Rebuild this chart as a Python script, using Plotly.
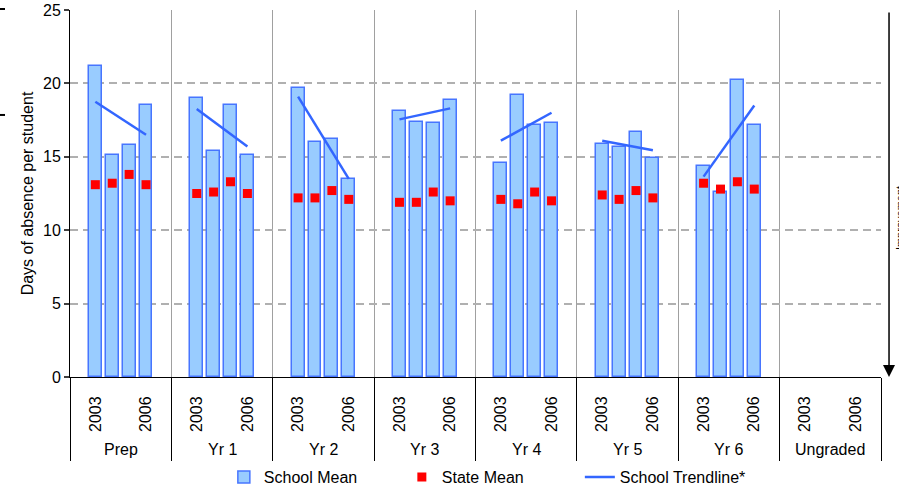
import plotly.graph_objects as go

groups = ["Prep", "Yr 1", "Yr 2", "Yr 3", "Yr 4", "Yr 5", "Yr 6", "Ungraded"]
years = ["2003", "2004", "2005", "2006"]

# days of absence per student, one list per group (2003..2006)
school_mean = [
    [21.2, 15.1, 15.8, 18.5],
    [19.0, 15.4, 18.5, 15.1],
    [19.7, 16.0, 16.2, 13.5],
    [18.1, 17.4, 17.3, 18.9],
    [14.6, 19.2, 17.2, 17.3],
    [15.9, 15.7, 16.7, 14.9],
    [14.4, 12.6, 20.2, 17.2],
    [None, None, None, None],
]
state_mean = [
    [13.1, 13.2, 13.8, 13.1],
    [12.5, 12.6, 13.3, 12.5],
    [12.2, 12.2, 12.7, 12.1],
    [11.9, 11.9, 12.6, 12.0],
    [12.1, 11.8, 12.6, 12.0],
    [12.4, 12.1, 12.7, 12.2],
    [13.2, 12.8, 13.3, 12.8],
    [None, None, None, None],
]
trend_start = [18.75, 18.25, 19.1, 17.55, 16.1, 16.1, 13.65, None]
trend_end = [16.5, 15.7, 13.5, 18.3, 18.0, 15.45, 18.5, None]

SLOTS = 6  # each group: blank, 4 years, blank

bar_x, bar_y, st_y = [], [], []
tr_x, tr_y = [], []
tick_vals, tick_text = [], []
for g, name in enumerate(groups):
    base = g * SLOTS + 1.5
    for i in range(len(years)):
        bar_x.append(base + i)
        bar_y.append(school_mean[g][i])
        st_y.append(state_mean[g][i])
    tick_vals += [base, base + 3]
    tick_text += [years[0], years[-1]]
    if trend_start[g] is not None:
        tr_x += [base, base + 3, None]
        tr_y += [trend_start[g], trend_end[g], None]

FONT = "Liberation Sans, Arial, sans-serif"

fig = go.Figure()
fig.add_trace(go.Bar(
    x=bar_x, y=bar_y, width=0.76, name="School Mean",
    marker=dict(color="#99CCFF", line=dict(color="#4775FF", width=1.5)),
))
fig.add_trace(go.Scatter(
    x=bar_x, y=st_y, mode="markers", name="State Mean",
    marker=dict(symbol="square", size=9, color="#FF0000"),
))
fig.add_trace(go.Scatter(
    x=tr_x, y=tr_y, mode="lines", name="School Trendline*",
    line=dict(color="#3366FF", width=2.5),
))

for g, name in enumerate(groups):
    fig.add_annotation(
        x=g * SLOTS + 3, y=0, xref="x", yref="paper", yshift=-72,
        text=name, showarrow=False, yanchor="middle",
        font=dict(size=16, color="black", family=FONT),
    )

# improvement arrow on the right
fig.add_annotation(
    x=1.0099, y=0, xref="paper", yref="paper", ax=0, ay=-366,
    text="", showarrow=True, arrowhead=2, arrowsize=1.6, arrowwidth=1.5,
    arrowcolor="black",
)
fig.add_annotation(
    x=1.0333, y=0.433, xref="paper", yref="paper", text="Improvement",
    textangle=-90, showarrow=False, font=dict(size=11, color="black", family=FONT),
)

# stray marks at the left edge
for yy in [1.0027, 0.714]:
    fig.add_shape(type="line", xref="paper", yref="paper",
                  x0=-70 / 811, x1=-65 / 811, y0=yy, y1=yy,
                  line=dict(color="black", width=2))

fig.update_layout(
    width=899, height=488,
    margin=dict(l=70, r=18, t=10, b=111),
    plot_bgcolor="white", paper_bgcolor="white",
    font=dict(family=FONT, size=16, color="black"),
    bargap=0,
    showlegend=True,
    legend=dict(
        orientation="h", xref="container", yref="container",
        x=0.249, xanchor="left", y=0.0225, yanchor="middle",
        entrywidth=133, entrywidthmode="pixels",
        font=dict(size=16, family=FONT), bgcolor="rgba(0,0,0,0)",
    ),
    xaxis=dict(
        range=[0, len(groups) * SLOTS], automargin=False,
        tickmode="array", tickvals=tick_vals, ticktext=tick_text,
        tickangle=-90, ticks="", ticklabelstandoff=12,
        showgrid=False, zeroline=False,
        showline=True, linecolor="black", linewidth=1,
        minor=dict(tick0=0, dtick=SLOTS, ticks="outside", ticklen=83,
                   tickcolor="black", tickwidth=1,
                   showgrid=True, gridcolor="#A0A0A0", gridwidth=1),
    ),
    yaxis=dict(
        range=[0, 25], dtick=5, automargin=False,
        ticks="outside", ticklen=5, tickcolor="#404040", tickwidth=1.5,
        showgrid=True, gridcolor="#B0B0B0", gridwidth=1.5, griddash="8px,5px",
        zeroline=False, showline=True, linecolor="black", linewidth=1,
        title=dict(text="Days of absence per student", standoff=5,
                   font=dict(size=16)),
    ),
)

# the page body has a default 8px margin; drop it so the figure sits at 0,0
fig.write_html("out.html", config={"displayModeBar": False},
               post_script="document.body.style.margin='0px';")
